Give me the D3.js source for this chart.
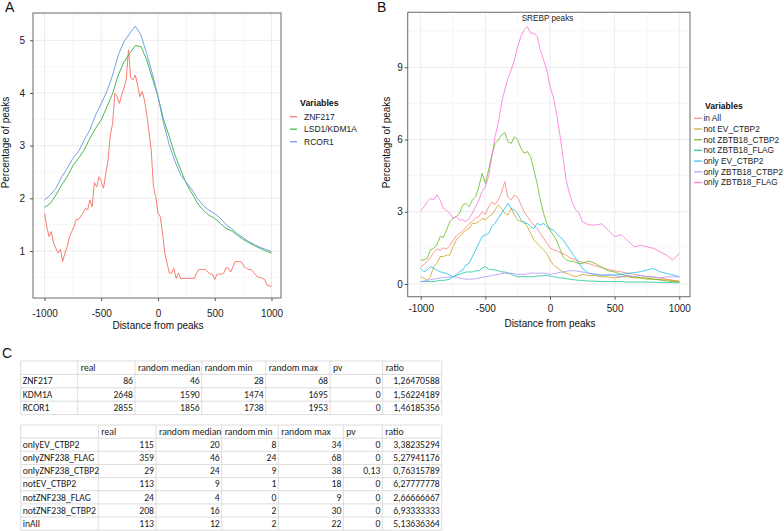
<!DOCTYPE html>
<html><head><meta charset="utf-8">
<script src="https://cdn.jsdelivr.net/npm/d3@7"></script>
<style>body{margin:0;background:#fff}svg text.p{font-family:"Liberation Sans",Arial,sans-serif}svg text.t{font-family:Carlito,Calibri,Lato,sans-serif}</style>
</head><body><svg id="c" width="784" height="531"></svg>
<script>
// ---------------- DATA ----------------
// Panel A
const aDist = [-1000,-950,-900,-850,-800,-750,-700,-650,-600,-550,-500,-450,-400,-350,-300,-250,-200,-150,-100,-50,0,50,100,150,200,250,300,350,400,450,500,550,600,650,700,750,800,850,900,950,1000];
const aRCOR1 = [1.97,2.06,2.19,2.4,2.57,2.76,2.89,3.11,3.3,3.58,3.8,4.03,4.34,4.72,4.97,5.13,5.27,5.1,4.75,4.37,3.93,3.42,3.01,2.7,2.44,2.3,2.16,1.99,1.86,1.77,1.71,1.62,1.5,1.42,1.33,1.25,1.18,1.12,1.07,1.03,0.99];
const aLSD1 = [1.83,1.9,2.06,2.25,2.41,2.62,2.76,2.92,3.14,3.33,3.49,3.74,3.99,4.34,4.59,4.75,4.9,4.88,4.63,4.28,3.93,3.49,3.17,2.82,2.54,2.28,2.09,1.9,1.77,1.68,1.62,1.52,1.43,1.38,1.3,1.22,1.16,1.1,1.05,1.0,0.96];
const aZnfDist = [-1000,-980,-960,-940,-920,-900,-880,-860,-840,-820,-800,-780,-760,-740,-720,-700,-680,-660,-640,-620,-600,-580,-560,-540,-520,-500,-480,-460,-440,-420,-400,-380,-360,-340,-320,-300,-280,-260,-240,-220,-200,-180,-160,-140,-120,-100,-80,-60,-40,-20,0,20,40,60,80,100,120,140,160,180,200,220,240,260,280,300,320,340,360,380,400,420,440,460,480,500,520,540,560,580,600,620,640,660,680,700,720,740,760,780,800,820,840,860,880,900,920,940,960,980,1000];
const aZNF217 = [1.72,1.46,1.27,1.37,1.15,1.05,0.96,1.03,0.8,0.96,1.08,1.27,1.37,1.46,1.6,1.6,1.66,1.72,1.81,1.78,1.97,1.84,2.3,2.22,2.41,2.32,2.19,2.47,2.73,3.2,3.42,3.99,3.93,3.8,3.96,4.09,4.25,4.82,4.28,4.25,4.34,4.15,3.93,4.03,3.87,3.61,3.27,2.92,2.22,2.03,1.72,1.65,1.34,0.96,0.77,0.58,0.58,0.67,0.48,0.58,0.48,0.48,0.48,0.48,0.48,0.48,0.48,0.58,0.65,0.65,0.65,0.65,0.6,0.56,0.56,0.46,0.56,0.56,0.56,0.58,0.69,0.67,0.6,0.7,0.8,0.8,0.8,0.78,0.7,0.67,0.65,0.65,0.6,0.55,0.5,0.5,0.48,0.46,0.35,0.34,0.33];
const aNames = ["ZNF217","LSD1/KDM1A","RCOR1"];
const aTicksX = [-1000,-500,0,500,1000];
const aTicksY = [1,2,3,4,5];

// Panel B
const bDist = [-1000,-975,-950,-925,-900,-875,-850,-825,-800,-775,-750,-725,-700,-675,-650,-625,-600,-575,-550,-525,-500,-475,-450,-425,-400,-375,-350,-325,-300,-275,-250,-225,-200,-175,-150,-125,-100,-75,-50,-25,0,25,50,75,100,125,150,175,200,225,250,300,350,400,450,500,550,600,650,700,750,800,850,900,950,1000];
const bInAll = [0.72,0.8,0.95,1.1,1.3,1.45,1.4,1.5,1.45,1.6,1.8,2.0,2.1,2.2,2.35,2.5,2.6,2.75,2.8,3.0,2.9,3.2,3.4,3.3,3.5,3.8,4.25,3.6,3.5,3.7,3.6,3.3,3.0,2.8,2.6,2.45,2.3,2.1,1.9,1.7,1.5,1.42,1.38,1.32,1.25,1.2,1.1,1.05,1.0,0.95,0.9,0.85,0.75,0.68,0.6,0.55,0.5,0.45,0.4,0.35,0.3,0.28,0.25,0.2,0.15,0.1];
const bNotEV = [0.3,0.24,0.17,0.3,0.72,0.86,1.14,1.14,1.2,1.2,1.55,1.83,1.97,2.1,2.24,2.3,2.52,2.52,2.59,2.73,2.66,2.8,2.87,3.07,3.28,3.14,2.94,2.87,3.14,2.87,2.66,2.59,2.59,2.38,2.1,1.83,1.69,1.55,1.41,1.27,1.0,0.8,0.7,0.6,0.5,0.45,0.4,0.35,0.3,0.35,0.4,0.35,0.35,0.3,0.3,0.25,0.3,0.3,0.25,0.25,0.2,0.2,0.18,0.17,0.15,0.12];
const bNotZC = [1.0,1.0,1.07,1.41,1.48,1.62,1.97,1.94,2.24,2.59,2.73,2.8,2.94,3.28,3.35,3.21,3.49,3.63,4.04,4.6,4.18,4.74,5.36,5.84,5.98,6.19,6.29,5.91,5.84,6.12,5.98,5.64,5.43,5.5,5.29,4.74,4.18,3.49,2.94,2.52,2.24,2.04,1.83,1.48,1.14,1.0,0.95,0.95,0.9,0.85,0.86,0.95,0.85,0.7,0.55,0.5,0.4,0.33,0.3,0.26,0.24,0.2,0.17,0.13,0.1,0.08];
const bNotZF = [0.1,0.1,0.1,0.1,0.1,0.12,0.15,0.15,0.17,0.2,0.3,0.35,0.4,0.45,0.5,0.5,0.5,0.55,0.55,0.65,0.72,0.62,0.6,0.58,0.55,0.5,0.5,0.45,0.4,0.35,0.3,0.3,0.32,0.3,0.3,0.3,0.33,0.33,0.35,0.35,0.33,0.3,0.28,0.25,0.25,0.22,0.2,0.18,0.17,0.15,0.15,0.12,0.12,0.1,0.1,0.1,0.1,0.08,0.08,0.08,0.08,0.07,0.07,0.06,0.06,0.05];
const bOnlyEV = [0.65,0.51,0.58,0.72,0.65,0.58,0.51,0.47,0.44,0.37,0.3,0.37,0.51,0.58,0.79,0.86,1.14,1.41,1.69,1.97,2.04,2.1,2.38,2.52,2.73,2.94,3.14,3.35,3.14,3.07,2.94,2.66,2.52,2.52,2.38,2.3,2.52,2.45,2.52,2.38,2.3,2.24,2.1,1.97,1.85,1.65,1.45,1.25,1.05,0.85,0.65,0.44,0.4,0.37,0.37,0.37,0.4,0.44,0.47,0.51,0.58,0.65,0.51,0.44,0.38,0.3];
const bOnlyZC = [0.1,0.12,0.15,0.18,0.2,0.22,0.25,0.27,0.27,0.28,0.3,0.28,0.25,0.22,0.2,0.2,0.2,0.22,0.25,0.28,0.3,0.32,0.35,0.38,0.4,0.42,0.45,0.45,0.45,0.42,0.4,0.4,0.4,0.42,0.45,0.45,0.45,0.45,0.45,0.42,0.4,0.42,0.45,0.48,0.5,0.52,0.55,0.55,0.55,0.52,0.5,0.45,0.4,0.35,0.4,0.35,0.3,0.35,0.3,0.35,0.3,0.3,0.25,0.3,0.3,0.3];
const bOnlyZF = [3.05,3.2,3.42,3.56,3.49,3.7,3.49,3.14,3.05,2.94,2.73,2.8,2.66,2.66,2.59,2.73,2.94,3.21,3.49,3.84,4.04,4.46,5.29,6.12,6.68,7.51,8.06,8.55,8.89,9.31,9.86,10.28,10.55,10.69,10.42,10.42,10.28,9.72,9.31,8.89,8.2,7.78,7.09,6.26,5.29,4.32,3.77,3.35,3.07,2.94,2.59,2.45,2.45,2.5,2.24,1.96,2.05,1.8,1.55,1.6,1.55,1.48,1.34,1.2,1.0,1.27];
const bNames = ["in All","not EV_CTBP2","not ZBTB18_CTBP2","not ZBTB18_FLAG","only EV_CTBP2","only ZBTB18_CTBP2","only ZBTB18_FLAG"];
const bTicksX = [-1000,-500,0,500,1000];
const bTicksY = [0,3,6,9];

// Panel C tables
const t1Header = ["","real","random median","random min","random max","pv","ratio"];
const t1Names = ["ZNF217","KDM1A","RCOR1"];
const t1Real = [86,2648,2855];
const t1Median = [46,1590,1856];
const t1Min = [28,1474,1738];
const t1Max = [68,1695,1953];
const t1Pv = ["0","0","0"];
const t1Ratio = ["1,26470588","1,56224189","1,46185356"];

const t2Header = ["","real","random median","random min","random max","pv","ratio"];
const t2Names = ["onlyEV_CTBP2","onlyZNF238_FLAG","onlyZNF238_CTBP2","notEV_CTBP2","notZNF238_FLAG","notZNF238_CTBP2","inAll"];
const t2Real = [115,359,29,113,24,208,113];
const t2Median = [20,46,24,9,4,16,12];
const t2Min = [8,24,9,1,0,2,2];
const t2Max = [34,68,38,18,9,30,22];
const t2Pv = ["0","0","0,13","0","0","0","0"];
const t2Ratio = ["3,38235294","5,27941176","0,76315789","6,27777778","2,66666667","6,93333333","5,13636364"];

// ---------------- DRAW ----------------
const svg = d3.select("#c");
svg.append("rect").attr("width",784).attr("height",531).attr("fill","#fff");

function panel(cfg){
  const g = svg.append("g");
  const f = cfg.frame;
  const x = d3.scaleLinear().domain([-1000,1000]).range(cfg.xr);
  const y = d3.scaleLinear().domain(cfg.yd).range(cfg.yr);
  const clipId = "clip"+cfg.id;
  svg.append("clipPath").attr("id",clipId).append("rect")
    .attr("x",f.L).attr("y",f.T).attr("width",f.R-f.L).attr("height",f.B-f.T);
  cfg.xMinor.forEach(v=>g.append("line").attr("x1",x(v)).attr("x2",x(v)).attr("y1",f.T).attr("y2",f.B).attr("stroke","#f2f2f2").attr("stroke-width",0.6));
  cfg.yMinor.forEach(v=>{ if(y(v)>f.T && y(v)<f.B) g.append("line").attr("x1",f.L).attr("x2",f.R).attr("y1",y(v)).attr("y2",y(v)).attr("stroke","#f2f2f2").attr("stroke-width",0.6);});
  cfg.xTicks.forEach(v=>g.append("line").attr("x1",x(v)).attr("x2",x(v)).attr("y1",f.T).attr("y2",f.B).attr("stroke","#e9e9e9").attr("stroke-width",0.9));
  cfg.yTicks.forEach(v=>g.append("line").attr("x1",f.L).attr("x2",f.R).attr("y1",y(v)).attr("y2",y(v)).attr("stroke","#e9e9e9").attr("stroke-width",0.9));
  const line = d3.line().x(d=>x(d[0])).y(d=>y(d[1]));
  const lg = g.append("g").attr("clip-path",`url(#${clipId})`);
  cfg.series.forEach(s=>{
    lg.append("path").attr("d",line(d3.zip(s.xs,s.ys))).attr("fill","none")
      .attr("stroke",s.color).attr("stroke-width",cfg.lw).attr("stroke-opacity",cfg.op).attr("stroke-linejoin","round");
  });
  g.append("rect").attr("x",f.L).attr("y",f.T).attr("width",f.R-f.L).attr("height",f.B-f.T)
    .attr("fill","none").attr("stroke","#777").attr("stroke-width",1.1);
  const ax = g.append("g").attr("transform",`translate(0,${f.B})`)
    .call(d3.axisBottom(x).tickValues(cfg.xTicks).tickSize(3).tickPadding(cfg.xPad).tickFormat(d=>String(d)));
  const ay = g.append("g").attr("transform",`translate(${f.L},0)`)
    .call(d3.axisLeft(y).tickValues(cfg.yTicks).tickSize(3).tickPadding(cfg.yPad).tickFormat(d=>String(d)));
  [ax,ay].forEach(a=>{
    a.select(".domain").remove();
    a.selectAll(".tick line").attr("stroke","#555");
    a.selectAll("text").attr("class","p").attr("font-size",10).attr("fill","#222");
  });
  g.append("text").attr("class","p").attr("x",(cfg.xr[0]+cfg.xr[1])/2).attr("y",cfg.xTitleY).attr("text-anchor","middle")
    .attr("font-size",10).attr("fill","#111").text("Distance from peaks");
  g.append("text").attr("class","p").attr("transform",`translate(${cfg.yTitleX},${cfg.yTitleC}) rotate(-90)`).attr("text-anchor","middle")
    .attr("font-size",10).attr("fill","#111").text("Percentage of peaks");
  const L = cfg.legend;
  g.append("text").attr("class","p").attr("x",L.x).attr("y",L.titleY).attr("font-size",L.fs+0.3).attr("font-weight","bold").attr("fill","#111").text("Variables");
  cfg.series.forEach((s,i)=>{
    const yy = L.y0 + i*L.dy;
    g.append("line").attr("x1",L.kx0).attr("x2",L.kx1).attr("y1",yy).attr("y2",yy).attr("stroke",s.color).attr("stroke-width",1.3).attr("stroke-opacity",cfg.op);
    g.append("text").attr("class","p").attr("x",L.tx).attr("y",yy+L.fs*0.36).attr("font-size",L.fs).attr("fill","#222").text(s.name);
  });
  return {x,y,g};
}

const pa = panel({
  id:"A", frame:{L:33,T:13,R:281,B:298}, xr:[44.5,271.5], yd:[1,5], yr:[251,40.3],
  xTicks:aTicksX, yTicks:aTicksY, xMinor:[-750,-250,250,750], yMinor:[0.5,1.5,2.5,3.5,4.5,5.5],
  xPad:9, yPad:5, xTitleY:329, yTitleX:9, yTitleC:142.5, lw:1, op:0.95,
  series:[
    {name:aNames[0], xs:aZnfDist, ys:aZNF217, color:"#F8766D"},
    {name:aNames[1], xs:aDist, ys:aLSD1, color:"#3DB548"},
    {name:aNames[2], xs:aDist, ys:aRCOR1, color:"#6B9BE8"}
  ],
  legend:{x:300, titleY:105.8, y0:116.7, dy:12.5, kx0:290, kx1:297, tx:304, fs:8.5}
});
svg.append("text").attr("class","p").attr("x",5).attr("y",12).attr("font-size",14).attr("fill","#111").text("A");

const bCols = ["#F8766D","#C49A00","#53B400","#00C094","#00B6EB","#A58AFF","#FB61D7"];
const bSeriesVals = [bInAll,bNotEV,bNotZC,bNotZF,bOnlyEV,bOnlyZC,bOnlyZF];
const pb = panel({
  id:"B", frame:{L:407.7,T:12.3,R:690,B:296.7}, xr:[420.7,679.3], yd:[0,9], yr:[284,67.3],
  xTicks:bTicksX, yTicks:bTicksY, xMinor:[-750,-250,250,750], yMinor:[1.5,4.5,7.5,10.5],
  xPad:5, yPad:2, xTitleY:327, yTitleX:390, yTitleC:142.5, lw:0.9, op:0.8,
  series: bNames.map((n,i)=>({name:n, xs:bDist, ys:bSeriesVals[i], color:bCols[i]})),
  legend:{x:705, titleY:108.7, y0:118.3, dy:10.7, kx0:694, kx1:702, tx:703.5, fs:8.3}
});
pb.g.append("text").attr("class","p").attr("x",547.5).attr("y",20.5).attr("text-anchor","middle").attr("font-size",8.2).attr("fill","#222").text("SREBP peaks");
svg.append("text").attr("class","p").attr("x",377).attr("y",12).attr("font-size",14).attr("fill","#111").text("B");
svg.append("text").attr("class","p").attr("x",2).attr("y",358).attr("font-size",14).attr("fill","#111").text("C");

// ---------------- TABLES ----------------
const meas = svg.append("text").attr("class","t").attr("font-size",11).text("random median");
const mw = meas.node().getComputedTextLength();
meas.remove();
const tfs = 11*62.5/mw;

function table(top, rowH, cols, header, names, data){
  const g = svg.append("g");
  const nRows = names.length+1;
  for(let r=0;r<=nRows;r++){
    g.append("line").attr("x1",cols[0]).attr("x2",cols[cols.length-1]).attr("y1",top+r*rowH).attr("y2",top+r*rowH).attr("stroke","#d4d4d4").attr("stroke-width",0.8);
  }
  cols.forEach(cx=>g.append("line").attr("x1",cx).attr("x2",cx).attr("y1",top).attr("y2",top+nRows*rowH).attr("stroke","#d4d4d4").attr("stroke-width",0.8));
  const txt=(x,y,s,anchor)=>g.append("text").attr("class","t").attr("x",x).attr("y",y).attr("text-anchor",anchor)
    .attr("font-size",tfs).attr("fill","#1a1a1a").text(s);
  header.forEach((h,i)=>{ if(h) txt(cols[i]+3, top+rowH/2+tfs*0.33, h, "start"); });
  names.forEach((n,r)=>{
    const yy = top+(r+1)*rowH+rowH/2+tfs*0.33;
    txt(cols[0]+2, yy, n, "start");
    data.forEach((col,c)=>{ txt(cols[c+2]-2, yy, String(col[r]), "end"); });
  });
}
table(361, 13.4, [20.7,77.7,135,201.7,265.7,330,382.7,441.7], t1Header, t1Names, [t1Real,t1Median,t1Min,t1Max,t1Pv,t1Ratio]);
table(425, 13.15, [20.7,98.3,156,221.7,278.3,343.3,382.3,441.7], t2Header, t2Names, [t2Real,t2Median,t2Min,t2Max,t2Pv,t2Ratio]);
</script></body></html>
